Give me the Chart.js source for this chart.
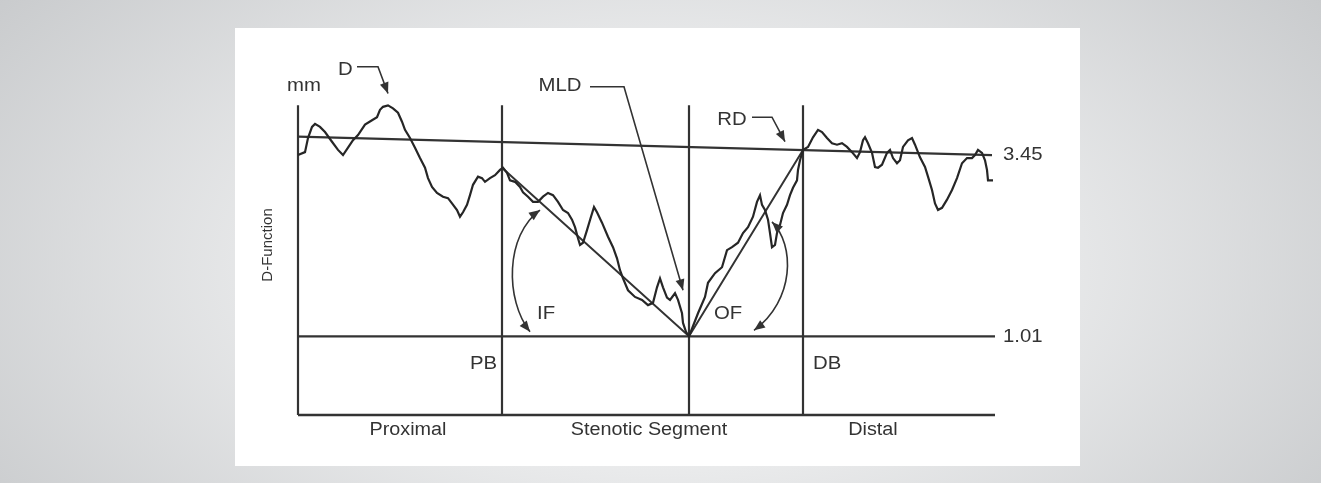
<!DOCTYPE html>
<html>
<head>
<meta charset="utf-8">
<script src="https://cdn.jsdelivr.net/npm/chart.js@4.4.1/dist/chart.umd.min.js"></script>
<style>
  html, body { margin: 0; padding: 0; }
  body {
    width: 1321px; height: 483px; overflow: hidden; position: relative;
    background: radial-gradient(ellipse 62% 95% at 50% 55%, #f6f6f6 0%, #e9eaeb 45%, #c9cbcd 100%);
  }
  #card { position: absolute; left: 235px; top: 28px; width: 845px; height: 438px; background: #fff; }
  #chart { position: absolute; left: 0; top: 0; }
</style>
</head>
<body>
<div id="card"></div>
<canvas id="chart" width="1321" height="483"></canvas>
<script>
// position along the vessel (samples) and measured diameter (mm)
const posX = [
  0, 7, 10, 14, 17, 22, 27, 34, 40, 45, 50, 55, 60, 67, 74, 79, 82, 85, 90, 95,
  100, 104, 107, 112, 117, 122, 127, 130, 134, 139, 145, 150, 154, 159, 162, 165, 169, 172, 175, 180,
  184, 187, 192, 197, 202, 205,
  209, 212, 217, 222, 225, 230, 235, 240, 245, 250, 255, 260, 265, 270, 274, 277, 280, 282, 285, 289,
  293, 296, 299, 304, 310, 315, 319, 322, 325, 330, 337, 344, 350, 355, 359, 362, 365, 369, 372, 377,
  380, 384, 385, 388, 391,
  400, 407, 410, 417, 424, 429, 434, 440, 445, 450, 455, 459, 462, 464, 467, 470, 472, 474, 477, 479,
  482, 485, 489, 492, 495, 499, 500, 502, 505,
  510, 515, 520, 524, 529, 534, 539, 544, 549, 554, 559, 562, 565, 567, 570, 574, 577, 580, 584, 589,
  592, 595, 599, 602, 605, 610, 614, 617, 622, 627, 630, 634, 637, 640, 644, 649, 654, 659, 664, 669,
  674, 677, 680, 684, 687, 689, 690, 695
];
const diamY = [
  3.45, 3.49, 3.68, 3.83, 3.87, 3.83, 3.76, 3.63, 3.52, 3.45, 3.55, 3.65, 3.72, 3.86, 3.92, 3.96, 4.06, 4.10, 4.12, 4.08,
  4.02, 3.90, 3.79, 3.68, 3.55, 3.41, 3.28, 3.14, 3.02, 2.94, 2.89, 2.87, 2.80, 2.71, 2.62, 2.68, 2.78, 2.91, 3.05, 3.16,
  3.14, 3.09, 3.14, 3.18, 3.25, 3.28,
  3.21, 3.11, 3.09, 3.02, 2.95, 2.89, 2.82, 2.82, 2.89, 2.94, 2.91, 2.82, 2.71, 2.67, 2.58, 2.48, 2.33, 2.24, 2.27, 2.44,
  2.62, 2.75, 2.68, 2.54, 2.35, 2.21, 2.06, 1.90, 1.79, 1.63, 1.54, 1.50, 1.43, 1.46, 1.67, 1.79, 1.67, 1.53, 1.50, 1.59,
  1.50, 1.32, 1.19, 1.07, 1.01,
  1.32, 1.54, 1.73, 1.86, 1.94, 2.17, 2.21, 2.27, 2.40, 2.48, 2.62, 2.82, 2.91, 2.78, 2.71, 2.58, 2.40, 2.21, 2.24, 2.40,
  2.51, 2.67, 2.78, 2.91, 3.01, 3.11, 3.25, 3.38, 3.52,
  3.56, 3.69, 3.79, 3.76, 3.68, 3.61, 3.59, 3.61, 3.56, 3.49, 3.41, 3.49, 3.65, 3.69, 3.61, 3.48, 3.29, 3.28, 3.32, 3.48,
  3.52, 3.41, 3.34, 3.38, 3.56, 3.65, 3.68, 3.59, 3.42, 3.29, 3.16, 2.98, 2.80, 2.71, 2.74, 2.85, 2.98, 3.14, 3.34, 3.41,
  3.41, 3.45, 3.52, 3.48, 3.38, 3.25, 3.11, 3.11
];

// interpolated reference diameter line
const refX = [0, 694];
const refY = [3.70, 3.45];

// segment borders: start, proximal border (PB), MLD, distal border (DB)
const borderX = [0, 204, 391, 505];
const borderTop = 4.12;
const axisBottom = -0.05;
const axisEnd = 697;

// key values
const mldValue = 1.01;
const pbValue = 3.28;
const rdValue = 3.52;
const segmentNames = ['Proximal', 'Stenotic Segment', 'Distal'];
const segmentMid = [110, 351, 575];

const ink = '#333333';
const seg = (pts, width, color) => ({
  data: pts, showLine: true, borderColor: color || ink, borderWidth: width || 2,
  pointRadius: 0, clip: false, tension: 0
});

const datasets = [
  seg(posX.map((x, i) => ({ x, y: diamY[i] })), 2.2, '#262626'),
  seg([{ x: 0, y: axisBottom }, { x: axisEnd, y: axisBottom }], 2.4),
  seg([{ x: 0, y: mldValue }, { x: axisEnd, y: mldValue }], 2.2),
  seg(refX.map((x, i) => ({ x, y: refY[i] })), 2.2),
  seg([{ x: borderX[1], y: pbValue }, { x: borderX[2], y: mldValue }, { x: borderX[3], y: rdValue }], 2)
];
borderX.forEach(bx => datasets.push(seg([{ x: bx, y: axisBottom }, { x: bx, y: borderTop }], 2.2)));

const labels = [
  { text: 'mm', x: 6, y: 4.38 },
  { text: 'D', x: 40, y: 4.60, align: 'left' },
  { text: 'MLD', x: 262, y: 4.38 },
  { text: 'RD', x: 434, y: 3.92 },
  { text: refY[1].toFixed(2), x: 705, y: refY[1], align: 'left' },
  { text: mldValue.toFixed(2), x: 705, y: mldValue, align: 'left' },
  { text: 'PB', x: 199, y: 0.64, align: 'right' },
  { text: 'DB', x: 515, y: 0.64, align: 'left' },
  { text: 'IF', x: 239, y: 1.31, align: 'left' },
  { text: 'OF', x: 416, y: 1.31, align: 'left' }
];
const pointers = [
  [[59, 4.64], [80, 4.64], [90, 4.28]],
  [[292, 4.37], [326, 4.37], [385, 1.63]],
  [[454, 3.96], [474, 3.96], [487, 3.63]]
];
const arcs = [
  [[242, 2.71], [207, 2.37], [207, 1.50], [232, 1.07]],
  [[474, 2.55], [497, 2.24], [497, 1.50], [456, 1.09]]
];

const annotate = {
  id: 'annotate',
  afterDatasetsDraw(chart) {
    const { ctx, scales: { x, y } } = chart;
    const P = p => [x.getPixelForValue(p[0]), y.getPixelForValue(p[1])];
    const head = (tip, from) => {
      const a = Math.atan2(tip[1] - from[1], tip[0] - from[0]);
      ctx.beginPath();
      ctx.moveTo(tip[0], tip[1]);
      ctx.lineTo(tip[0] - 11 * Math.cos(a) + 4.5 * Math.sin(a), tip[1] - 11 * Math.sin(a) - 4.5 * Math.cos(a));
      ctx.lineTo(tip[0] - 11 * Math.cos(a) - 4.5 * Math.sin(a), tip[1] - 11 * Math.sin(a) + 4.5 * Math.cos(a));
      ctx.closePath();
      ctx.fill();
    };
    // text in the figure is set a little wide
    const text = (s, p, align, stretch) => {
      ctx.save();
      ctx.translate(p[0], p[1]);
      ctx.scale(stretch, 1);
      ctx.textAlign = align || 'center';
      ctx.fillText(s, 0, 0);
      ctx.restore();
    };
    ctx.save();
    ctx.fillStyle = ink; ctx.strokeStyle = ink; ctx.lineWidth = 1.6;
    ctx.textBaseline = 'middle';
    ctx.font = '19px "Liberation Sans", Arial, sans-serif';
    labels.forEach(l => text(l.text, P([l.x, l.y]), l.align, 1.07));
    ctx.font = '18px "Liberation Sans", Arial, sans-serif';
    segmentNames.forEach((n, i) => text(n, P([segmentMid[i], -0.25]), 'center', 1.1));

    const f = P([-30, 2.24]);
    ctx.save();
    ctx.translate(f[0], f[1]);
    ctx.rotate(-Math.PI / 2);
    ctx.font = '15px "Liberation Sans", Arial, sans-serif';
    ctx.textAlign = 'center';
    ctx.fillText('D-Function', 0, 0);
    ctx.restore();

    pointers.forEach(pts => {
      const px = pts.map(P);
      ctx.beginPath();
      px.forEach((p, i) => i ? ctx.lineTo(p[0], p[1]) : ctx.moveTo(p[0], p[1]));
      ctx.stroke();
      head(px[px.length - 1], px[px.length - 2]);
    });
    arcs.forEach(c => {
      const [a, b, d, e] = c.map(P);
      ctx.beginPath();
      ctx.moveTo(a[0], a[1]);
      ctx.bezierCurveTo(b[0], b[1], d[0], d[1], e[0], e[1]);
      ctx.stroke();
      head(a, b);
      head(e, d);
    });
    ctx.restore();
  }
};

new Chart(document.getElementById('chart').getContext('2d'), {
  type: 'scatter',
  data: { datasets },
  options: {
    responsive: false,
    animation: false,
    layout: { padding: { left: 298, right: 326, top: 40, bottom: 68 } },
    scales: {
      x: { type: 'linear', min: 0, max: axisEnd, display: false },
      y: { type: 'linear', min: axisBottom, max: 5.0, display: false }
    },
    plugins: { legend: { display: false }, tooltip: { enabled: false } }
  },
  plugins: [annotate]
});
</script>
</body>
</html>
